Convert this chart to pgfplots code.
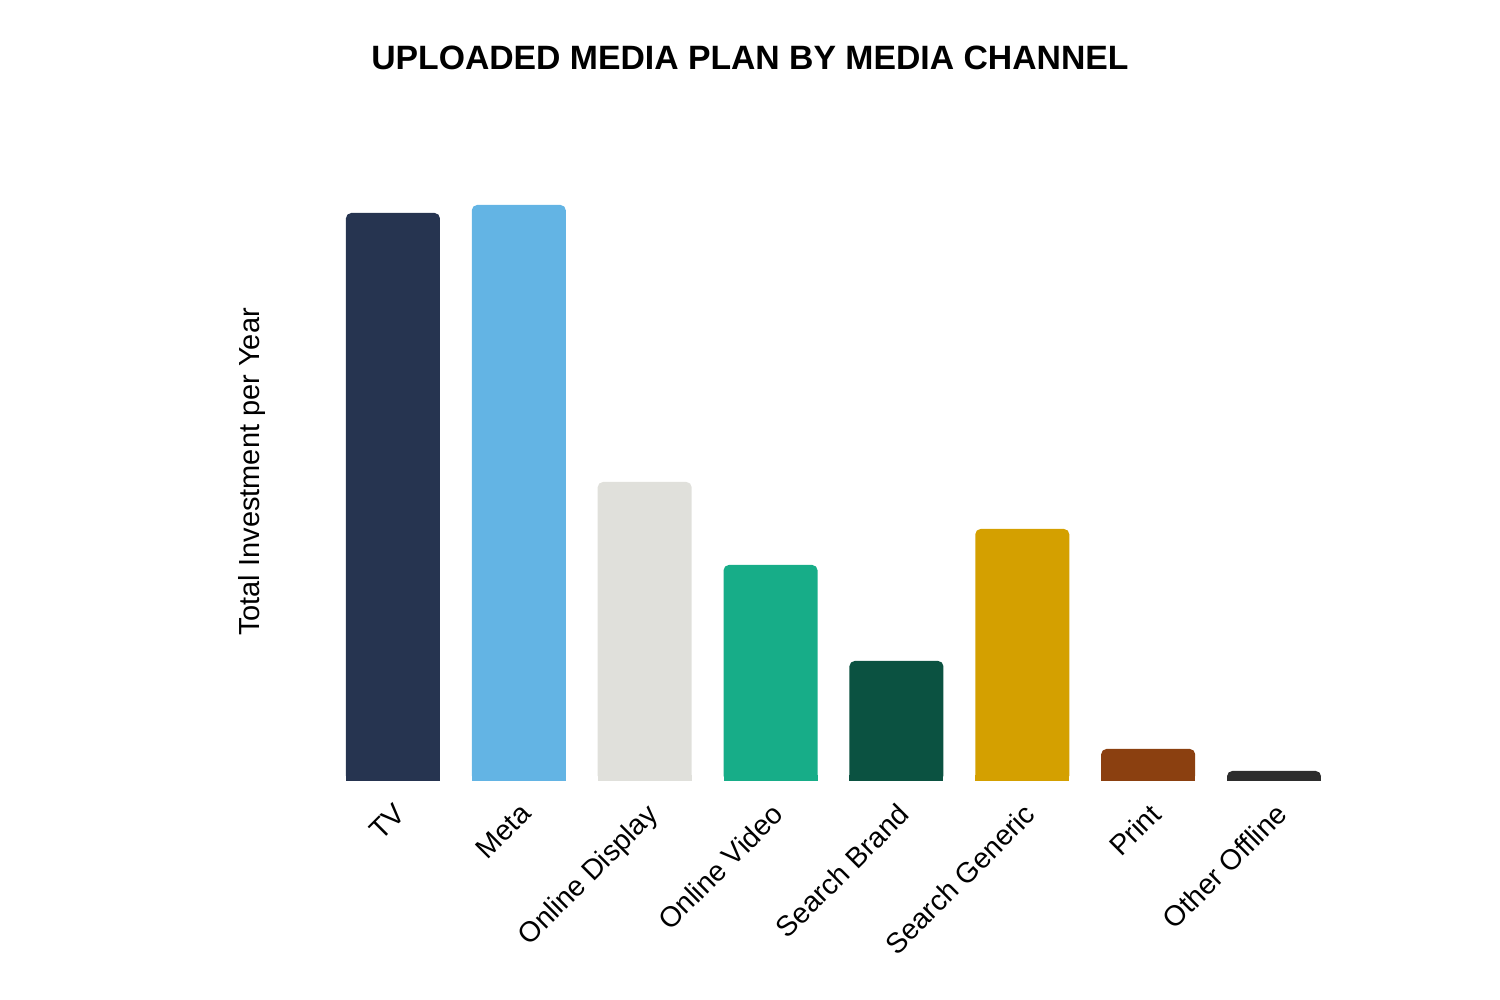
\documentclass[border=0pt]{standalone}
\usepackage{pgfplots}
\pgfplotsset{compat=1.18}
\usepackage{fontspec}
\setmainfont{Liberation Sans}

\definecolor{cTV}{HTML}{263450}
\definecolor{cMeta}{HTML}{63B4E4}
\definecolor{cDisplay}{HTML}{E0E0DB}
\definecolor{cVideo}{HTML}{17AD88}
\definecolor{cBrand}{HTML}{0B5241}
\definecolor{cGeneric}{HTML}{D4A000}
\definecolor{cPrint}{HTML}{8B4010}
\definecolor{cOther}{HTML}{2D2D2D}

% rounded top, square bottom: rounded bar plus a short square foot
\pgfplotsset{
  rbar/.style={fill=#1, draw=none, rounded corners=1.5pt},
  sbar/.style={fill=#1, draw=none, y filter/.expression={min(y/2,6)}},
}

\begin{document}
\begin{tikzpicture}
\useasboundingbox (0,0) rectangle (15cm,10cm);
\begin{axis}[
  at={(3.30cm,2.19cm)}, anchor=south west,
  scale only axis, width=10.07cm, height=6cm,
  xmin=-0.5, xmax=7.5, ymin=0, ymax=600,
  ybar, bar width=0.94cm, bar shift=0pt,
  axis line style={draw=none},
  tick style={draw=none},
  ytick=\empty,
  xtick={0,...,7},
  xticklabels={TV,Meta,Online Display,Online Video,Search Brand,Search Generic,Print,Other Offline},
  xticklabel style={rotate=45, anchor=north east, inner sep=1pt,
    font=\fontsize{8.1}{10}\selectfont},
  ylabel={Total Investment per Year},
  ylabel style={at={(axis description cs:-0.0775,0.515)}, anchor=center,
    font=\fontsize{8.25}{10}\selectfont},
  title={UPLOADED MEDIA PLAN BY MEDIA CHANNEL},
  title style={at={(axis description cs:0.417,1.170)}, anchor=center,
    font=\fontsize{9.6}{11}\selectfont\bfseries},
  clip=false,
]
\addplot[rbar=cTV] coordinates {(0,568)};
\addplot[sbar=cTV] coordinates {(0,568)};
\addplot[rbar=cMeta] coordinates {(1,576)};
\addplot[sbar=cMeta] coordinates {(1,576)};
\addplot[rbar=cDisplay] coordinates {(2,299)};
\addplot[sbar=cDisplay] coordinates {(2,299)};
\addplot[rbar=cVideo] coordinates {(3,216)};
\addplot[sbar=cVideo] coordinates {(3,216)};
\addplot[rbar=cBrand] coordinates {(4,120)};
\addplot[sbar=cBrand] coordinates {(4,120)};
\addplot[rbar=cGeneric] coordinates {(5,252)};
\addplot[sbar=cGeneric] coordinates {(5,252)};
\addplot[rbar=cPrint] coordinates {(6,32)};
\addplot[sbar=cPrint] coordinates {(6,32)};
\addplot[rbar=cOther] coordinates {(7,10)};
\addplot[sbar=cOther] coordinates {(7,10)};
\end{axis}
\end{tikzpicture}
\end{document}
